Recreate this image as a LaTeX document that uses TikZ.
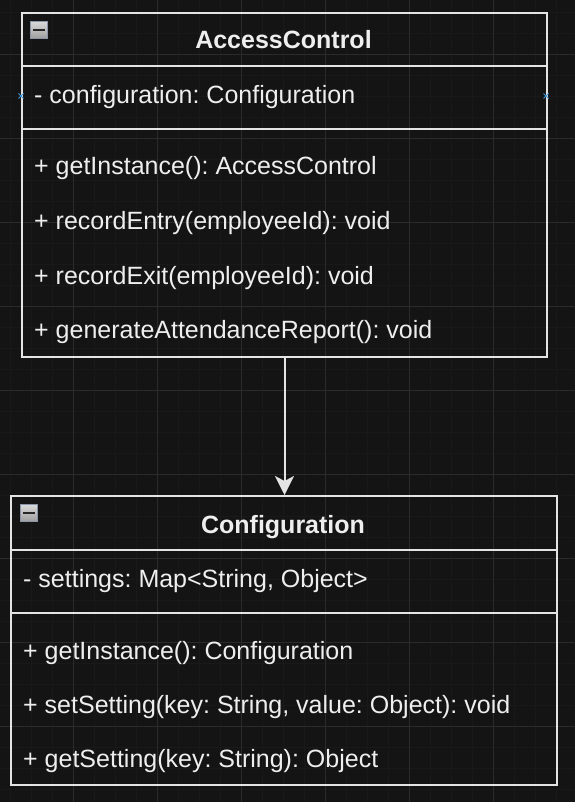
\documentclass[tikz,border=0pt]{standalone}
\usepackage{fontspec}
\setmainfont{Liberation Sans}
\usepackage{xcolor}
\usepackage{tikz}
\usetikzlibrary{positioning,calc,arrows.meta}
\frenchspacing

\definecolor{bgcol}{HTML}{141414}
\definecolor{gridminor}{HTML}{191919}
\definecolor{gridmajor}{HTML}{2B2B2B}
\definecolor{linecol}{HTML}{E4E4E4}
\definecolor{textcol}{HTML}{EEEEEE}
\definecolor{iconedge}{HTML}{8A96A8}
\definecolor{markcol}{HTML}{3C93D6}

\tikzset{
    umlbox/.style={draw=linecol, line width=2pt, anchor=north west, inner sep=0pt},
    umlline/.style={draw=linecol, line width=2pt},
    umltitle/.style={text=textcol, font=\fontsize{25}{30}\selectfont\bfseries, anchor=base, inner sep=0pt},
    umltext/.style={text=textcol, font=\fontsize{25}{30}\selectfont, anchor=base west, inner sep=0pt},
    collapseicon/.style={draw=iconedge, line width=1.5pt, minimum size=17pt, inner sep=0pt,
        top color=white!85!black, bottom color=white!62!black,
        path picture={\draw[line width=2.2pt, black!85]
            ([xshift=-6pt]path picture bounding box.center) -- ([xshift=6pt]path picture bounding box.center);}},
    conn/.style={draw=linecol, line width=2pt, -{Stealth[length=19pt, width=19pt, inset=5pt]}},
    cpoint/.style={draw=markcol, line width=1pt}
}

\begin{document}
\begin{tikzpicture}[x=1pt, y=-1pt]
    \useasboundingbox (0,0) rectangle (575,802);
    \fill[bgcol] (0,0) rectangle (575,802);

    % grid
    \foreach \x in {10.3,31.3,...,575} {
        \draw[gridminor, line width=1pt] (\x,0) -- (\x,802);
    }
    \foreach \y in {12.3,33.3,...,802} {
        \draw[gridminor, line width=1pt] (0,\y) -- (575,\y);
    }
    \foreach \x in {73.3,157.3,...,575} {
        \draw[gridmajor, line width=1pt] (\x,0) -- (\x,802);
    }
    \foreach \y in {54.3,138.3,...,802} {
        \draw[gridmajor, line width=1pt] (0,\y) -- (575,\y);
    }

    % AccessControl
    \node[umlbox, minimum width=525pt, minimum height=344pt] (accessBox) at (21,12) {};
    \draw[umlline] (21,66) -- (546,66);
    \draw[umlline] (21,129) -- (546,129);
    \node[collapseicon] (accessIcon) at (39,30) {};
    \node[umltitle] (accessTitle) at (283.5,49) {AccessControl};
    \node[umltext] (accessAttr) at (34,104) {- configuration: Configuration};
    \foreach \txt [count=\i from 0] in {{+ getInstance(): AccessControl},
                                       {+ recordEntry(employeeId): void},
                                       {+ recordExit(employeeId): void},
                                       {+ generateAttendanceReport(): void}} {
        \node[umltext] (accessOp\i) at (34,175+54.5*\i) {\txt};
    }
    \draw[cpoint] (18.5,93.5) -- (23.5,98.5) (18.5,98.5) -- (23.5,93.5);
    \draw[cpoint] (543.5,93.5) -- (548.5,98.5) (543.5,98.5) -- (548.5,93.5);

    % Configuration
    \node[umlbox, minimum width=546pt, minimum height=289pt] (configBox) at (10,495) {};
    \draw[umlline] (10,550) -- (556,550);
    \draw[umlline] (10,613) -- (556,613);
    \node[collapseicon] (configIcon) at (29,513) {};
    \node[umltitle] (configTitle) at (283,533) {Configuration};
    \node[umltext] (configAttr) at (23,587) {- settings: Map<String, Object>};
    \foreach \txt [count=\i from 0] in {{+ getInstance(): Configuration},
                                       {+ setSetting(key: String, value: Object): void},
                                       {+ getSetting(key: String): Object}} {
        \node[umltext] (configOp\i) at (23,659+54.2*\i) {\txt};
    }

    % dependency
    \draw[conn] (accessBox.south) -- (accessBox.south |- configBox.north);
\end{tikzpicture}
\end{document}
